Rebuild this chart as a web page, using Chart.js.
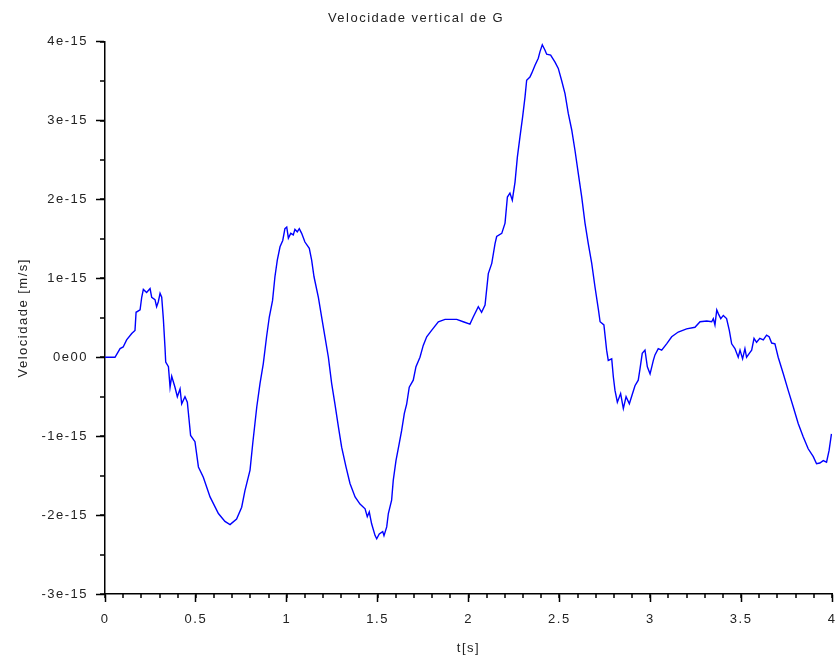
<!DOCTYPE html>
<html>
<head>
<meta charset="utf-8">
<title>Velocidade vertical de G</title>
<script src="https://cdn.jsdelivr.net/npm/chart.js@4/dist/chart.umd.min.js"></script>
<style>
  html, body { margin: 0; padding: 0; background: #fff; }
</style>
</head>
<body>
<canvas id="myChart" width="840" height="661"></canvas>
<script>
// time in s
const tempo = [
  0, 0.055, 0.083, 0.10, 0.119, 0.147, 0.165, 0.171, 0.193, 0.202, 0.211, 0.229, 0.248, 0.257, 0.275, 0.284, 0.293, 0.303, 0.312, 0.321,
  0.330, 0.334, 0.349, 0.358, 0.367, 0.385, 0.398, 0.413, 0.422, 0.440, 0.453, 0.459, 0.471, 0.495, 0.514, 0.541, 0.578, 0.624, 0.660, 0.688,
  0.724, 0.752, 0.770, 0.798, 0.813, 0.825, 0.835, 0.853, 0.871, 0.889, 0.904, 0.922, 0.935, 0.948, 0.963, 0.978, 0.990, 1.000, 1.009, 1.022,
  1.036, 1.045, 1.058, 1.069, 1.082, 1.100, 1.124, 1.137, 1.150, 1.174, 1.192, 1.210, 1.229, 1.247, 1.265, 1.284, 1.302, 1.326, 1.348, 1.376,
  1.403, 1.431, 1.443, 1.454, 1.467, 1.486, 1.495, 1.509, 1.528, 1.535, 1.550, 1.559, 1.577, 1.586, 1.601, 1.619, 1.632, 1.647, 1.660, 1.674,
  1.696, 1.711, 1.733, 1.751, 1.770, 1.797, 1.834, 1.871, 1.935, 1.971, 2.008, 2.026, 2.054, 2.072, 2.091, 2.109, 2.128, 2.146, 2.155, 2.183,
  2.201, 2.214, 2.228, 2.241, 2.256, 2.269, 2.283, 2.298, 2.311, 2.320, 2.338, 2.348, 2.366, 2.384, 2.393, 2.406, 2.421, 2.430, 2.452, 2.476,
  2.494, 2.512, 2.531, 2.549, 2.568, 2.586, 2.604, 2.623, 2.641, 2.659, 2.678, 2.696, 2.715, 2.724, 2.745, 2.760, 2.769, 2.788, 2.797, 2.806,
  2.819, 2.837, 2.852, 2.867, 2.885, 2.897, 2.916, 2.934, 2.944, 2.956, 2.971, 2.984, 2.999, 3.017, 3.026, 3.044, 3.063, 3.090, 3.118, 3.154,
  3.200, 3.246, 3.274, 3.311, 3.338, 3.347, 3.356, 3.366, 3.375, 3.388, 3.402, 3.420, 3.435, 3.448, 3.466, 3.484, 3.494, 3.508, 3.521, 3.530,
  3.545, 3.558, 3.571, 3.585, 3.603, 3.622, 3.640, 3.654, 3.668, 3.686, 3.704, 3.732, 3.759, 3.787, 3.814, 3.842, 3.869, 3.897, 3.915, 3.933,
  3.952, 3.970, 3.984, 3.997
];

// vertical velocity, in units of 1e-15 m/s
const velocidade = [
  0, 0, 0.11, 0.13, 0.22, 0.30, 0.34, 0.57, 0.60, 0.76, 0.86, 0.82, 0.87, 0.76, 0.73, 0.64, 0.70, 0.81, 0.76, 0.49,
  0.13, -0.06, -0.12, -0.38, -0.24, -0.38, -0.50, -0.40, -0.59, -0.50, -0.57, -0.71, -0.99, -1.07, -1.39, -1.52, -1.77, -1.98, -2.08, -2.12,
  -2.05, -1.90, -1.69, -1.43, -1.09, -0.84, -0.63, -0.33, -0.08, 0.26, 0.51, 0.72, 1.02, 1.23, 1.40, 1.48, 1.63, 1.65, 1.51, 1.57,
  1.55, 1.62, 1.59, 1.63, 1.57, 1.46, 1.38, 1.23, 1.02, 0.76, 0.51, 0.26, 0.00, -0.33, -0.59, -0.88, -1.14, -1.39, -1.60, -1.77,
  -1.86, -1.92, -2.02, -1.96, -2.11, -2.26, -2.30, -2.24, -2.21, -2.26, -2.15, -1.98, -1.81, -1.56, -1.31, -1.09, -0.93, -0.71, -0.59, -0.38,
  -0.29, -0.12, 0.00, 0.15, 0.26, 0.34, 0.45, 0.48, 0.48, 0.45, 0.42, 0.51, 0.64, 0.57, 0.66, 1.06, 1.19, 1.44, 1.53, 1.57,
  1.70, 2.03, 2.08, 1.99, 2.22, 2.54, 2.79, 3.05, 3.30, 3.51, 3.55, 3.60, 3.70, 3.79, 3.87, 3.96, 3.89, 3.84, 3.83, 3.74,
  3.66, 3.51, 3.34, 3.09, 2.88, 2.62, 2.33, 2.03, 1.70, 1.44, 1.19, 0.89, 0.60, 0.45, 0.41, 0.09, -0.04, -0.02, -0.25, -0.42,
  -0.57, -0.46, -0.65, -0.50, -0.59, -0.50, -0.36, -0.29, -0.14, 0.05, 0.09, -0.12, -0.21, -0.04, 0.03, 0.11, 0.09, 0.17, 0.26, 0.32,
  0.36, 0.38, 0.45, 0.46, 0.45, 0.49, 0.41, 0.60, 0.55, 0.49, 0.53, 0.49, 0.34, 0.17, 0.11, 0.00, 0.09, -0.02, 0.11, 0.00,
  0.05, 0.09, 0.24, 0.19, 0.24, 0.22, 0.28, 0.26, 0.18, 0.17, 0.00, -0.21, -0.42, -0.63, -0.84, -1.01, -1.16, -1.26, -1.35, -1.34,
  -1.31, -1.33, -1.18, -0.97
];

const xTickValues = [0, 0.5, 1, 1.5, 2, 2.5, 3, 3.5, 4];
const xTickLabels = ["0", "0.5", "1", "1.5", "2", "2.5", "3", "3.5", "4"];
const yTickValues = [-3, -2, -1, 0, 1, 2, 3, 4];
const yTickLabels = ["-3e-15", "-2e-15", "-1e-15", "0e00", "1e-15", "2e-15", "3e-15", "4e-15"];

const FONT = "'Liberation Sans', Arial, sans-serif";

// scilab-like spaced lettering
const spacing = {
  id: "spacing",
  beforeUpdate(chart) { chart.ctx.letterSpacing = "1.5px"; },
  beforeDraw(chart) { chart.ctx.letterSpacing = "1.5px"; },
};

// small ticks between the labelled ones
const minorTicks = {
  id: "minorTicks",
  afterDraw(chart) {
    const { ctx, scales: { x, y } } = chart;
    ctx.save();
    ctx.strokeStyle = "#000";
    ctx.lineWidth = 1.5;
    ctx.beginPath();
    for (let i = 0; i <= 40; i++) {
      const px = Math.round(x.getPixelForValue(i / 10));
      ctx.moveTo(px, x.top);
      ctx.lineTo(px, x.top + 4);
    }
    for (let i = 0; i <= 14; i++) {
      const py = Math.round(y.getPixelForValue(-3 + i / 2));
      ctx.moveTo(y.right, py);
      ctx.lineTo(y.right - 5, py);
    }
    ctx.stroke();
    ctx.restore();
  },
};

const ctx = document.getElementById("myChart").getContext("2d");

const data = {
  datasets: [
    {
      label: "Velocidade vertical de G",
      data: tempo.map((t, i) => ({ x: t, y: velocidade[i] })),
      borderColor: "#0000ff",
      borderWidth: 1.4,
      pointRadius: 0,
      tension: 0,
      fill: false,
    },
  ],
};

const options = {
  responsive: false,
  animation: false,
  layout: { padding: { left: 0, right: 8, top: 0, bottom: 0 } },
  plugins: {
    legend: { display: false },
    tooltip: { enabled: false },
    title: {
      display: true,
      text: "Velocidade vertical de G",
      color: "#222",
      font: { family: FONT, size: 13, weight: "normal" },
      padding: { top: 11, bottom: 15 },
    },
  },
  scales: {
    x: {
      type: "linear",
      min: 0,
      max: 4,
      afterBuildTicks: (scale) => { scale.ticks = xTickValues.map((v) => ({ value: v })); },
      afterFit: (scale) => {
        scale.height = 67;
        scale.paddingLeft = 0;
        scale.paddingRight = 0;
      },
      ticks: {
        color: "#222",
        font: { family: FONT, size: 13 },
        padding: 10,
        maxRotation: 0,
        callback: (v, i) => xTickLabels[i],
      },
      grid: { drawOnChartArea: false, drawTicks: true, tickLength: 8, tickColor: "#000", tickWidth: 1.5 },
      border: { display: true, color: "#000", width: 1.5 },
      title: {
        display: true,
        text: "t[s]",
        color: "#222",
        font: { family: FONT, size: 13 },
        padding: { top: 0, bottom: 5 },
      },
    },
    y: {
      type: "linear",
      min: -3,
      max: 4,
      afterBuildTicks: (scale) => { scale.ticks = yTickValues.map((v) => ({ value: v })); },
      afterFit: (scale) => { scale.width = 105; },
      ticks: {
        color: "#222",
        font: { family: FONT, size: 13 },
        padding: 8,
        callback: (v, i) => yTickLabels[i],
      },
      grid: { drawOnChartArea: false, drawTicks: true, tickLength: 9, tickColor: "#000", tickWidth: 1.5 },
      border: { display: true, color: "#000", width: 1.5 },
      title: {
        display: true,
        text: "Velocidade [m/s]",
        color: "#222",
        font: { family: FONT, size: 13 },
        padding: { top: 16, bottom: 0 },
      },
    },
  },
};

new Chart(ctx, {
  type: "line",
  data: data,
  options: options,
  plugins: [spacing, minorTicks],
});
</script>
</body>
</html>
